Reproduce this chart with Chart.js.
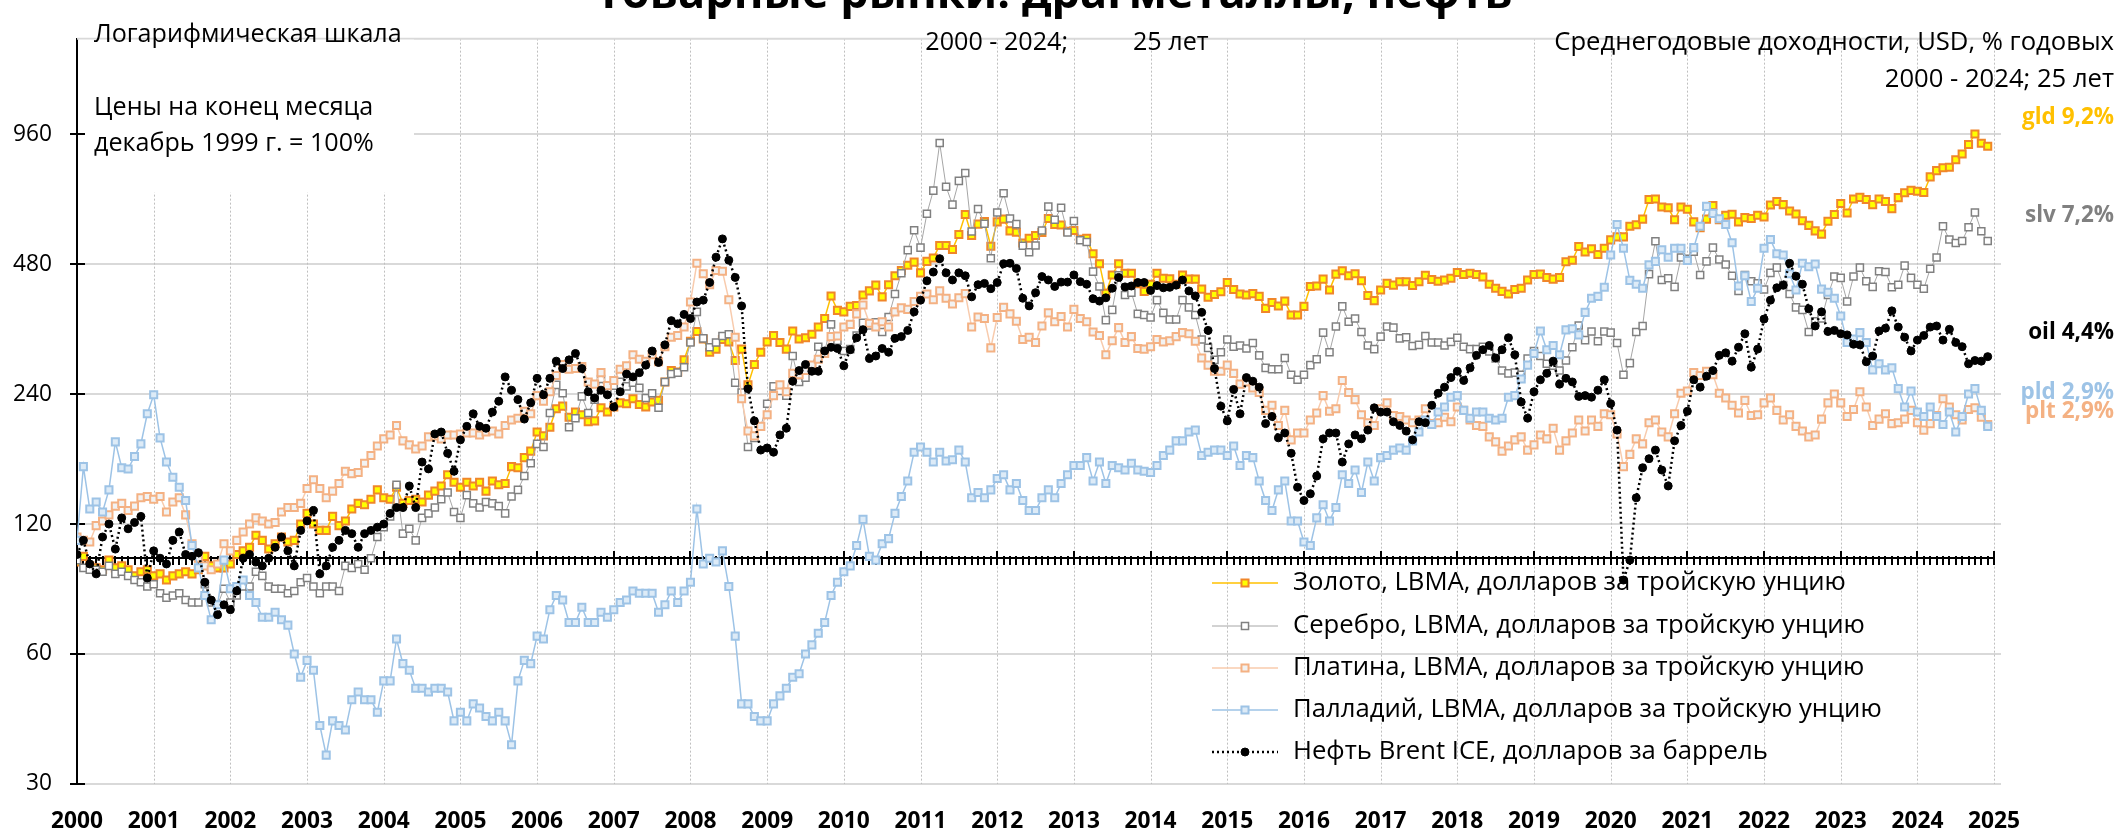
<!DOCTYPE html>
<html>
<head>
<meta charset="utf-8">
<script src="https://cdn.jsdelivr.net/npm/chart.js@4.4.1/dist/chart.umd.min.js"></script>
<style>
  html, body { margin: 0; padding: 0; background: #fff; overflow: hidden; }
  #wrap { position: relative; width: 2120px; height: 829px; }
</style>
</head>
<body>
<div id="wrap"><canvas id="grafico" width="2120" height="829"></canvas></div>
<script>
// Monthly values, month end, Jan 2000 .. Dec 2024, December 1999 = 100
const years = [2000, 2001, 2002, 2003, 2004, 2005, 2006, 2007, 2008, 2009, 2010, 2011, 2012,
  2013, 2014, 2015, 2016, 2017, 2018, 2019, 2020, 2021, 2022, 2023, 2024, 2025];
const yTicks = [30, 60, 120, 240, 480, 960];

const gold = [
  98, 101, 96, 95, 94, 99, 95, 96, 94, 91, 93, 94,
  91, 92, 89, 91, 92, 93, 92, 94, 101, 96, 95, 95,
  97, 102, 104, 106, 113, 110, 105, 108, 112, 109, 110, 120,
  127, 120, 116, 116, 125, 119, 122, 130, 134, 133, 137, 144,
  138, 137, 146, 134, 136, 137, 135, 140, 143, 147, 156, 150,
  146, 150, 147, 150, 143, 151, 148, 149, 163, 162, 171, 177,
  196, 192, 201, 222, 225, 212, 218, 215, 207, 208, 223, 218,
  224, 229, 228, 234, 227, 224, 230, 232, 256, 272, 270, 288,
  318, 335, 322, 300, 305, 321, 317, 287, 305, 252, 281, 300,
  317, 328, 316, 305, 336, 322, 324, 330, 343, 359, 405, 375,
  372, 383, 385, 407, 416, 429, 403, 430, 451, 464, 477, 485,
  458, 487, 496, 530, 530, 519, 562, 625, 559, 594, 602, 528,
  601, 610, 573, 569, 537, 551, 559, 568, 612, 593, 591, 572,
  574, 548, 551, 507, 481, 411, 453, 481, 457, 457, 432, 415,
  431, 457, 445, 444, 431, 453, 443, 443, 420, 402, 408, 414,
  435, 419, 409, 407, 410, 404, 379, 391, 384, 394, 366, 366,
  383, 426, 427, 443, 418, 455, 463, 451, 456, 439, 406, 395,
  418, 433, 429, 437, 437, 428, 437, 452, 442, 438, 441, 445,
  459, 454, 457, 454, 448, 431, 422, 415, 409, 419, 422, 441,
  454, 455, 447, 443, 447, 486, 490, 527, 512, 521, 505, 522,
  546, 555, 555, 587, 592, 610, 677, 679, 651, 648, 608, 651,
  643, 601, 583, 610, 656, 608, 623, 626, 601, 615, 612, 623,
  617, 658, 670, 659, 637, 627, 605, 590, 573, 563, 603, 625,
  663, 630, 679, 685, 677, 659, 679, 670, 645, 684, 702, 711,
  708, 703, 764, 790, 802, 804, 837, 863, 908, 960, 914, 900
];

const silver = [
  99, 95, 94, 94, 93, 96, 92, 93, 91, 89, 88, 86,
  87, 83, 81, 82, 83, 80, 79, 79, 87, 79, 78, 85,
  79, 82, 86, 86, 93, 91, 86, 85, 85, 83, 84, 88,
  90, 86, 83, 86, 86, 84, 96, 95, 97, 94, 100, 112,
  118, 125, 148, 114, 117, 110, 124, 127, 131, 137, 142, 128,
  124, 140, 134, 131, 135, 134, 132, 127, 139, 144, 155, 166,
  184, 181, 217, 252, 241, 201, 211, 237, 217, 233, 260, 242,
  251, 266, 250, 255, 248, 235, 241, 223, 256, 267, 269, 277,
  316, 372, 323, 308, 316, 327, 330, 255, 242, 181, 190, 202,
  228, 250, 244, 238, 294, 256, 262, 279, 309, 301, 348, 319,
  302, 305, 328, 351, 346, 352, 334, 362, 409, 457, 517, 575,
  524, 628, 710, 915, 725, 659, 748, 780, 571, 644, 595, 495,
  632, 700, 612, 594, 529, 511, 530, 574, 652, 608, 648, 568,
  604, 545, 540, 461, 426, 356, 376, 452, 407, 412, 368, 366,
  361, 396, 370, 357, 357, 396, 381, 366, 321, 307, 288, 300,
  321, 309, 311, 306, 315, 295, 276, 274, 274, 291, 266, 259,
  266, 280, 289, 333, 300, 344, 383, 353, 359, 334, 311, 305,
  326, 344, 342, 323, 325, 310, 312, 327, 316, 316, 311, 317,
  324, 309, 305, 305, 309, 301, 290, 272, 268, 269, 266, 290,
  302, 294, 282, 279, 272, 287, 308, 346, 320, 335, 318, 335,
  333, 315, 266, 283, 334, 345, 455, 542, 441, 445, 425, 497,
  494, 513, 453, 487, 524, 492, 479, 451, 416, 453, 438, 433,
  419, 458, 471, 429, 409, 381, 376, 334, 354, 359, 407, 449,
  446, 393, 449, 471, 438, 425, 462, 460, 424, 430, 476, 446,
  430, 421, 468, 497, 587, 547, 537, 543, 584, 632, 572, 543
];

const platinum = [
  112, 110, 109, 119, 122, 126, 132, 134, 129, 132, 138, 139,
  137, 139, 128, 135, 138, 126, 108, 100, 96, 94, 97, 108,
  104, 110, 115, 120, 124, 122, 120, 121, 128, 131, 131, 134,
  145, 152, 145, 138, 143, 149, 159, 157, 158, 166, 173, 182,
  189, 193, 203, 187, 183, 179, 182, 191, 192, 189, 193, 193,
  194, 195, 195, 193, 196, 197, 194, 203, 209, 211, 219, 216,
  238, 231, 243, 265, 281, 274, 275, 278, 256, 253, 269, 251,
  258, 274, 279, 296, 289, 286, 296, 285, 309, 325, 328, 343,
  392, 482, 456, 430, 464, 462, 397, 325, 234, 197, 192, 202,
  215, 238, 252, 243, 268, 266, 272, 280, 289, 298, 326, 327,
  343, 348, 368, 386, 350, 343, 353, 343, 372, 380, 377, 393,
  404, 409, 397, 416, 400, 388, 401, 410, 343, 362, 359, 307,
  361, 381, 368, 354, 321, 325, 316, 345, 370, 353, 363, 343,
  377, 359, 353, 334, 328, 296, 319, 342, 316, 326, 306, 305,
  309, 321, 317, 319, 326, 333, 331, 318, 291, 280, 271, 271,
  280, 268, 253, 256, 248, 242, 220, 226, 203, 220, 188, 195,
  195, 209, 217, 238, 219, 222, 258, 242, 233, 215, 206, 203,
  222, 229, 214, 213, 209, 206, 209, 222, 205, 206, 212, 207,
  224, 220, 209, 203, 202, 191, 186, 177, 182, 188, 191, 178,
  183, 193, 189, 200, 178, 187, 195, 209, 197, 209, 202, 216,
  215, 194, 163, 174, 189, 184, 206, 209, 196, 191, 216, 241,
  244, 269, 265, 271, 266, 241, 235, 226, 217, 232, 214, 215,
  229, 235, 220, 209, 215, 202, 197, 191, 193, 210, 229, 240,
  229, 213, 221, 243, 224, 203, 210, 216, 205, 206, 210, 220,
  206, 198, 205, 214, 234, 224, 215, 209, 221, 223, 212, 204
];

const palladium = [
  110, 163, 130, 135, 128, 144, 186, 162, 161, 172, 184, 216,
  239, 190, 167, 154, 146, 136, 107, 95, 82, 72, 78, 99,
  85, 86, 89, 82, 79, 73, 73, 75, 72, 70, 60, 53,
  58, 55, 41, 35, 42, 41, 40, 47, 49, 47, 47, 44,
  52, 52, 65, 57, 55, 50, 50, 49, 50, 50, 49, 42,
  44, 42, 46, 45, 43, 42, 44, 42, 37, 52, 58, 57,
  66, 65, 76, 82, 80, 71, 71, 77, 71, 71, 75, 73,
  76, 79, 80, 84, 83, 83, 83, 75, 78, 84, 79, 84,
  88, 130, 97, 100, 98, 104, 86, 66, 46, 46, 43, 42,
  42, 46, 48, 50, 53, 54, 60, 63, 67, 71, 82, 88,
  93, 96, 107, 123, 101, 99, 108, 111, 127, 139, 151, 176,
  181, 176, 167, 176, 168, 169, 178, 167, 138, 142, 138, 144,
  153, 156, 144, 149, 136, 129, 129, 138, 144, 138, 149, 156,
  164, 164, 171, 151, 167, 149, 164, 162, 160, 166, 160, 159,
  158, 164, 173, 178, 187, 187, 196, 198, 173, 176, 178, 178,
  173, 182, 164, 173, 171, 151, 136, 129, 144, 151, 122, 122,
  109, 107, 124, 133, 122, 131, 156, 149, 160, 142, 167, 151,
  171, 173, 178, 180, 178, 187, 196, 209, 204, 218, 224, 236,
  238, 220, 211, 218, 218, 211, 209, 211, 236, 238, 260, 280,
  298, 336, 304, 311, 296, 338, 340, 329, 371, 400, 404, 424,
  504, 593, 522, 440, 431, 422, 478, 487, 518, 498, 522, 522,
  489, 524, 587, 653, 629, 611, 593, 538, 427, 451, 393, 422,
  522, 547, 507, 504, 456, 418, 482, 473, 480, 420, 413, 400,
  364, 316, 322, 333, 316, 273, 282, 273, 276, 247, 224, 244,
  218, 213, 224, 213, 204, 218, 196, 213, 240, 247, 220, 202
];

const oil = [
  102, 110, 97, 92, 112, 120, 105, 124, 117, 121, 125, 90,
  104, 100, 97, 110, 115, 102, 101, 103, 88, 80, 74, 78,
  76, 84, 100, 102, 98, 96, 100, 106, 112, 104, 96, 116,
  122, 129, 92, 96, 106, 110, 116, 114, 106, 114, 116, 118,
  120, 127, 131, 131, 147, 131, 167, 161, 194, 196, 175, 159,
  188, 202, 216, 202, 200, 218, 231, 263, 245, 233, 210, 229,
  261, 239, 261, 286, 275, 288, 298, 275, 243, 235, 245, 239,
  224, 243, 267, 263, 269, 280, 302, 284, 312, 355, 349, 367,
  359, 392, 396, 435, 498, 549, 490, 447, 384, 247, 208, 178,
  180, 176, 193, 200, 257, 272, 281, 271, 271, 302, 308, 306,
  279, 304, 324, 338, 290, 294, 306, 300, 323, 326, 337, 372,
  396, 439, 460, 494, 458, 441, 458, 451, 403, 430, 433, 421,
  435, 481, 482, 469, 400, 384, 412, 449, 441, 426, 436, 436,
  453, 437, 431, 399, 394, 401, 422, 447, 425, 427, 435, 435,
  417, 428, 423, 424, 429, 441, 416, 405, 371, 337, 275, 225,
  208, 246, 216, 262, 257, 249, 205, 213, 190, 195, 175, 146,
  136, 141, 155, 189, 195, 195, 167, 184, 193, 189, 198, 223,
  218, 218, 207, 203, 197, 188, 207, 206, 226, 241, 249, 262,
  271, 258, 276, 295, 304, 311, 291, 304, 324, 296, 230, 211,
  243, 259, 268, 286, 253, 261, 256, 237, 238, 236, 245, 259,
  228, 198, 89, 99, 138, 162, 170, 178, 160, 147, 187, 203,
  219, 259, 249, 264, 272, 295, 299, 286, 308, 331, 277, 305,
  358, 396, 423, 429, 482, 450, 431, 378, 345, 372, 335, 337,
  331, 329, 313, 312, 285, 294, 336, 341, 374, 343, 325, 302,
  320, 328, 343, 345, 320, 339, 316, 309, 282, 287, 286, 293
];

const seriesNames = [
  'Золото, LBMA, долларов за тройскую унцию',
  'Серебро, LBMA, долларов за тройскую унцию',
  'Платина, LBMA, долларов за тройскую унцию',
  'Палладий, LBMA, долларов за тройскую унцию',
  'Нефть Brent ICE, долларов за баррель'
];
const returnLabels = ['gld 9,2%', 'slv 7,2%', 'plt 2,9%', 'pld 2,9%', 'oil 4,4%'];

const FONT = '"Open Sans", "Noto Sans", sans-serif';

// style of every series: line, marker fill, marker border
const estilos = [
  { line: '#FFC000', fill: '#FFFF00', edge: '#F0862A', width: 1.5, shape: 'rect', r: 5, bw: 2, text: '#FFC000' },
  { line: '#A6A6A6', fill: '#FFFFFF', edge: '#808080', width: 1, shape: 'rect', r: 5, bw: 1.5, text: '#808080' },
  { line: '#F8CBAD', fill: '#F2F2F2', edge: '#F4B183', width: 1.5, shape: 'rect', r: 5, bw: 2, text: '#F4B183' },
  { line: '#9DC3E6', fill: '#DDEBF7', edge: '#9DC3E6', width: 1.5, shape: 'rect', r: 5, bw: 2, text: '#9DC3E6' },
  { line: '#000000', fill: '#000000', edge: '#000000', width: 2.5, shape: 'circle', r: 4, bw: 1, text: '#000000', dash: [2, 3] }
];

const mctx = document.createElement('canvas').getContext('2d');
function ajusta(texto, largura, peso) {
  mctx.font = (peso || 'normal') + ' 100px ' + FONT;
  return 100 * largura / mctx.measureText(texto).width;
}

function pontos(valores) {
  return valores.map((v, i) => ({ x: 2000 + i / 12, y: v }));
}

const valores = [gold, silver, platinum, palladium, oil];
const datasets = valores.map((serie, k) => ({
  label: seriesNames[k],
  data: pontos(serie),
  borderColor: estilos[k].line,
  borderWidth: estilos[k].width,
  borderDash: estilos[k].dash || [],
  pointStyle: estilos[k].shape,
  pointRadius: estilos[k].r,
  pointBackgroundColor: estilos[k].fill,
  pointBorderColor: estilos[k].edge,
  pointBorderWidth: estilos[k].bw,
  tension: 0,
  order: 4 - k
}));

const tamTick = ajusta('960', 39);
const tamAno = ajusta('2000', 52, 'bold');

const decoracao = {
  id: 'decoracao',
  beforeDatasetsDraw(chart) {
    const c = chart.ctx, a = chart.chartArea;
    const sx = chart.scales.x, sy = chart.scales.y;
    c.save();
    // vertical dotted grid
    c.strokeStyle = '#BFBFBF';
    c.lineWidth = 1;
    c.setLineDash([2, 2]);
    years.slice(1).forEach(ano => {
      const px = Math.round(sx.getPixelForValue(ano)) + 0.5;
      c.beginPath(); c.moveTo(px, a.top); c.lineTo(px, a.bottom); c.stroke();
    });
    c.setLineDash([]);
    // top border
    c.strokeStyle = '#D9D9D9';
    c.lineWidth = 2;
    c.beginPath(); c.moveTo(a.left, a.top); c.lineTo(a.right, a.top); c.stroke();
    // white box behind the note in the upper left
    c.fillStyle = '#FFFFFF';
    c.fillRect(a.left + 2, a.top + 1, 335, 153);
    // left axis ticks
    c.strokeStyle = '#000';
    c.lineWidth = 2;
    yTicks.forEach(v => {
      const py = Math.round(sy.getPixelForValue(v));
      c.beginPath(); c.moveTo(a.left - 7, py); c.lineTo(a.left + 8, py); c.stroke();
    });
    // horizontal axis through 100
    const y100 = Math.round(sy.getPixelForValue(100));
    c.beginPath(); c.moveTo(a.left, y100); c.lineTo(sx.getPixelForValue(2025), y100); c.stroke();
    for (let m = 1; m <= 300; m++) {
      const px = Math.round(sx.getPixelForValue(2000 + m / 12));
      const big = m % 12 === 0;
      c.beginPath();
      c.moveTo(px, big ? y100 - 7 : y100 - 2);
      c.lineTo(px, y100 + 7);
      c.stroke();
    }
    c.restore();
  },
  afterDraw(chart) {
    const c = chart.ctx;
    c.save();
    c.fillStyle = '#000';
    c.textBaseline = 'alphabetic';
    // title, cut by the top edge
    c.textAlign = 'center';
    const tTit = ajusta('Товарные рынки: драгметаллы, нефть', 917, 'bold');
    c.font = 'bold ' + tTit + 'px ' + FONT;
    c.fillText('Товарные рынки: драгметаллы, нефть', 1054, 8);

    // notes, upper left
    c.textAlign = 'left';
    c.textBaseline = 'middle';
    const tNota = ajusta('Логарифмическая шкала', 308);
    c.font = tNota + 'px ' + FONT;
    c.fillText('Логарифмическая шкала', 94, 35);
    c.fillText('Цены на конец месяца', 94, 108);
    c.fillText('декабрь 1999 г. = 100%', 94, 144);

    // period in the middle
    c.textAlign = 'right';
    c.fillText('2000 - 2024;', 1068, 43);
    c.textAlign = 'left';
    c.fillText('25 лет', 1133, 43);

    // upper right
    c.textAlign = 'right';
    const tDir = ajusta('Среднегодовые доходности, USD, % годовых', 560);
    c.font = tDir + 'px ' + FONT;
    c.fillText('Среднегодовые доходности, USD, % годовых', 2114, 43);
    c.fillText('2000 - 2024; 25 лет', 2114, 80);

    // return labels at the right
    const tRet = ajusta('gld 9,2%', 92, 'bold');
    c.font = 'bold ' + tRet + 'px ' + FONT;
    const yRet = [118, 216, 412, 393, 333];
    returnLabels.forEach((t, k) => {
      c.fillStyle = estilos[k].text;
      c.fillText(t, 2114, yRet[k]);
    });

    // legend
    const tLeg = ajusta(seriesNames[3], 589);
    const yLeg = [583, 626, 668, 710, 752];
    seriesNames.forEach((nome, k) => {
      const e = estilos[k], y = yLeg[k];
      c.strokeStyle = e.line;
      c.lineWidth = e.width;
      c.setLineDash(e.dash || []);
      c.beginPath(); c.moveTo(1212, y); c.lineTo(1278, y); c.stroke();
      c.setLineDash([]);
      c.fillStyle = e.fill;
      c.strokeStyle = e.edge;
      c.lineWidth = e.bw;
      c.beginPath();
      if (e.shape === 'rect') {
        const s = e.r * Math.SQRT1_2;
        c.rect(1245 - s, y - s, 2 * s, 2 * s);
      } else {
        c.arc(1245, y, e.r, 0, Math.PI * 2);
      }
      c.fill(); c.stroke();
      c.fillStyle = '#000';
      c.textAlign = 'left';
      c.font = tLeg + 'px ' + FONT;
      c.fillText(nome, 1293, y);
    });
    c.restore();
  }
};

new Chart(document.getElementById('grafico'), {
  type: 'line',
  data: { datasets: datasets },
  options: {
    responsive: false,
    animation: false,
    events: [],
    layout: { padding: { top: 10, right: 119, left: 0, bottom: 0 } },
    plugins: { legend: { display: false }, tooltip: { enabled: false }, title: { display: false } },
    scales: {
      x: {
        type: 'linear',
        min: 2000,
        max: 2025.09,
        afterFit: s => { s.height = 45; },
        afterBuildTicks: s => { s.ticks = years.map(v => ({ value: v })); },
        grid: { display: false },
        border: { display: false },
        ticks: {
          autoSkip: false, maxRotation: 0, padding: 16, color: '#000',
          font: { family: FONT, size: tamAno, weight: 'bold' },
          callback: v => String(v)
        }
      },
      y: {
        type: 'logarithmic',
        min: 30,
        max: 1597,
        afterFit: s => { s.width = 77; },
        afterBuildTicks: s => { s.ticks = yTicks.map(v => ({ value: v })); },
        grid: { color: '#D9D9D9', lineWidth: 2, drawTicks: false },
        border: { display: true, color: '#000', width: 2 },
        ticks: {
          padding: 25, color: '#000',
          font: { family: FONT, size: tamTick },
          callback: v => String(v)
        }
      }
    }
  },
  plugins: [decoracao]
});
</script>
</body>
</html>
